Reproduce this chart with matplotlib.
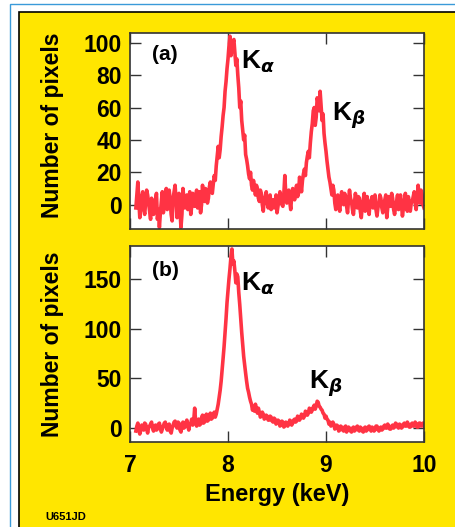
import numpy as np
import matplotlib
matplotlib.use("Agg")
import matplotlib.pyplot as plt
from matplotlib.patches import Rectangle

plt.rcParams["font.family"] = ["Liberation Sans", "DejaVu Sans"]
plt.rcParams["font.weight"] = "bold"
plt.rcParams["mathtext.fontset"] = "dejavusans"

# energy channels (keV), 0.01 keV bins
energy = np.round(np.arange(7.06, 10.0001, 0.01), 2)

# panel (a) counts
counts_a = [
    -2, 6, 14, 3, -8, -1, 5, 8, -3, -6, 2, 9, 6, 1, -4, -9, 4, 0, -6, -1,
    3, 7, -9, -3, -14, -5, 2, 8, -5, -1, 6, 10, -3, 2, 9, 3, -6, -10, 4, 8,
    12, 3, -8, -2, 7, -4, -14, -6, 10, 4, -2, 5, 6, -3, 1, 8, -6, -1, 7, 2,
    -1, 5, 9, -2, 3, 8, -5, 0, 12, 5, 2, 10, 8, 1, 4, 11, 14, 9, 7, 13,
    18, 15, 24, 30, 36, 29, 34, 42, 48, 55, 60, 70, 76, 84, 90, 98, 104, 92, 96, 100,
    102, 94, 86, 90, 80, 72, 60, 64, 52, 46, 40, 43, 31, 28, 24, 19, 16, 20, 12, 9,
    15, 11, 6, 12, 10, 4, 2, 9, 7, 0, -4, 3, 5, 8, 1, -2, 4, 6, -3, 2,
    3, -2, 0, 6, -5, -1, 3, 8, 5, 0, -1, 7, 18, 6, 1, 4, 9, 2, -3, 5,
    10, 6, 3, 9, 12, 5, 7, 17, 14, 8, 15, 19, 22, 18, 26, 30, 33, 29, 38, 45,
    50, 58, 60, 49, 54, 66, 63, 58, 70, 61, 52, 56, 44, 38, 33, 27, 22, 17, 14, 10,
    6, 12, 9, 1, -3, 4, 6, 0, -4, 3, 8, 2, 0, 7, 5, -1, -5, 3, 9, 4,
    2, -3, -6, 1, 7, 3, -2, 5, 4, -4, -8, -1, 3, 7, -4, 0, 5, -2, -6, 2,
    2, 5, -2, 1, 6, -3, -7, -2, 1, 6, 4, -2, -5, 0, 3, 6, -8, -2, 5, 1,
    -1, 7, 4, -3, -6, -1, 2, 6, -3, 1, 6, 0, -7, -2, 3, 7, 0, -4, 5, 2,
    -4, 1, 2, 5, 8, 1, -3, 4, 12, 5, 1, 9, 6, 0, -2,
]

# panel (b) counts
counts_b = [
    -3, 2, 5, -1, -6, -2, 3, 0, -2, 5, 4, -1, -5, 1, 2, 4, 6, 0, -3, 1,
    3, -2, -1, 4, 5, 0, -4, -1, 2, 5, 6, 1, -2, 3, 4, -3, -5, 0, 3, 6,
    7, 2, 0, 6, 5, -2, -4, 3, 6, 0, 1, 5, 8, 2, -2, 4, 5, 9, 3, 7,
    20, 6, 2, 8, 9, 3, 4, 10, 13, 5, 6, 12, 14, 7, 8, 13, 15, 9, 10, 14,
    16, 11, 14, 19, 24, 31, 38, 47, 58, 70, 82, 96, 110, 126, 138, 150, 160, 172, 180, 165,
    168, 158, 146, 155, 152, 136, 124, 110, 96, 84, 72, 63, 55, 47, 40, 36, 31, 27, 24, 18,
    21, 17, 24, 19, 15, 20, 16, 11, 12, 16, 14, 9, 10, 13, 12, 8, 8, 12, 11, 7,
    6, 10, 9, 4, 5, 8, 7, 2, 3, 7, 6, 1, 2, 6, 5, 2, 4, 8, 7, 3,
    5, 8, 9, 6, 7, 12, 11, 8, 10, 14, 13, 10, 12, 17, 16, 13, 15, 20, 19, 16,
    18, 21, 23, 19, 22, 27, 26, 22, 21, 19, 18, 15, 14, 10, 12, 9, 8, 4, 6, 2,
    3, 6, 4, -1, 0, 3, 2, -3, -2, 2, 1, -2, -3, 1, 2, -4, -2, 1, 0, -3,
    -4, 0, 1, -3, -2, 1, 2, -2, -3, 1, 0, -3, -4, 0, 1, -3, -2, 1, 2, -1,
    -3, 1, 0, -3, -2, 2, 2, -1, -3, 0, 1, -2, -1, 2, 3, 0, 0, 4, 2, -1,
    -1, 2, 3, 0, 1, 5, 4, 1, 0, 4, 3, 0, 1, 4, 5, 2, 2, 6, 4, 1,
    1, 4, 5, 2, 2, 6, 4, 1, 1, 5, 5, 2, 3, 5, 2,
]

yticks_a = [0, 20, 40, 60, 80, 100]
yticks_b = [0, 50, 100, 150]
xticks = [7, 8, 9, 10]

line_color = "#ff3344"
yellow = "#ffe600"

fig = plt.figure(figsize=(4.55, 5.27), dpi=100)
fig.patch.set_facecolor("white")

# blue outer frame and yellow panel
fig.patches.append(Rectangle((10 / 455, -0.1), 1.2, (527 - 4) / 527 + 0.1,
                             transform=fig.transFigure, facecolor="white",
                             edgecolor="#3a9ad9", linewidth=1.0, zorder=-2))
fig.patches.append(Rectangle((19 / 455, -0.1), 1.2, (527 - 12) / 527 + 0.1,
                             transform=fig.transFigure, facecolor=yellow,
                             edgecolor="black", linewidth=1.2, zorder=-1))

ax_a = fig.add_axes([130 / 455, (527 - 229) / 527, 294 / 455, 196 / 527])
ax_b = fig.add_axes([130 / 455, (527 - 442) / 527, 294 / 455, 196 / 527])

for ax, counts, yt, ylim in [(ax_a, counts_a, yticks_a, (-15, 106)),
                             (ax_b, counts_b, yticks_b, (-14, 183))]:
    ax.plot(energy, counts, color=line_color, linewidth=2.6)
    ax.set_xlim(7, 10)
    ax.set_ylim(*ylim)
    ax.set_yticks(yt)
    ax.set_xticks(xticks)
    ax.tick_params(direction="in", length=8, width=1.0, top=True, right=True,
                   labelsize=16.5, pad=6, color="#333333")
    for s in ax.spines.values():
        s.set_linewidth(1.2)
        s.set_color("#333333")
    ax.set_ylabel("Number of pixels", fontsize=16.5, fontweight="bold")

ax_a.yaxis.set_label_coords(-0.225, 0.53)
ax_b.yaxis.set_label_coords(-0.225, 0.5)
ax_a.tick_params(labelbottom=False)
ax_b.tick_params(axis="x", pad=9)
ax_b.set_xlabel("Energy (keV)", fontsize=17, fontweight="bold", labelpad=4)

ax_a.text(7.22, 93, "(a)", fontsize=15, va="center", ha="left")
ax_a.text(8.13, 88, r"K$_{\alpha}$", fontsize=19, va="center", ha="left")
ax_a.text(9.06, 55, r"K$_{\beta}$", fontsize=19, va="center", ha="left")

ax_b.text(7.22, 158, "(b)", fontsize=15, va="center", ha="left")
ax_b.text(8.13, 145, r"K$_{\alpha}$", fontsize=19, va="center", ha="left")
ax_b.text(8.83, 44, r"K$_{\beta}$", fontsize=19, va="center", ha="left")

fig.text(45 / 455, 1 - 517 / 527, "U651JD", fontsize=8, fontweight="bold",
         va="center", ha="left")

fig.savefig("out.png", dpi=100, facecolor=fig.get_facecolor())
